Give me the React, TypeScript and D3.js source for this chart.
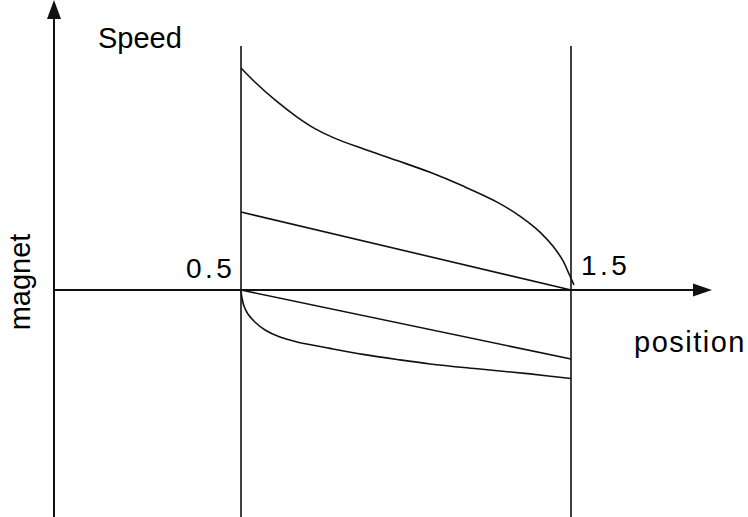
import React from "react";
import * as d3 from "d3";

// Position along the track (x) and speed / magnet readings (y)
const topCurveX = [0.5, 0.542, 0.603, 0.67, 0.724, 0.785, 0.87, 0.973, 1.073, 1.173, 1.276, 1.345, 1.406, 1.445, 1.476, 1.494, 1.509];
const topCurveY = [1.0, 0.937, 0.856, 0.779, 0.727, 0.683, 0.636, 0.583, 0.53, 0.468, 0.396, 0.333, 0.261, 0.198, 0.131, 0.072, 0.023];

const upperLineX = [0.5, 1.5];
const upperLineY = [0.351, 0];

const lowerLineX = [0.5, 1.5];
const lowerLineY = [0, -0.311];

const bottomCurveX = [0.5, 0.503, 0.509, 0.521, 0.542, 0.573, 0.618, 0.67, 0.77, 0.87, 0.973, 1.073, 1.224, 1.376, 1.5];
const bottomCurveY = [0, -0.036, -0.072, -0.108, -0.144, -0.18, -0.212, -0.234, -0.263, -0.29, -0.313, -0.333, -0.356, -0.378, -0.399];

const boundaryTicks = [0.5, 1.5];
const boundaryLabels = ["0.5", "1.5"];

const W = 748;
const H = 517;

const x = d3.scaleLinear().domain([0.5, 1.5]).range([241, 571]);
const y = d3.scaleLinear().domain([-1, 1]).range([512, 68]);

const axisLeft = 54;
const axisRight = 712;

const zip = (xs: number[], ys: number[]) => xs.map((v, i) => [v, ys[i]] as [number, number]);

const smooth = d3
  .line<[number, number]>()
  .x((d) => x(d[0]))
  .y((d) => y(d[1]))
  .curve(d3.curveCatmullRom.alpha(0.5));

const straight = d3
  .line<[number, number]>()
  .x((d) => x(d[0]))
  .y((d) => y(d[1]));

export default function App() {
  const y0 = y(0);
  const font = "'Liberation Sans', Arial, Helvetica, sans-serif";
  const stroke = "#111";
  return (
    <svg
      width={W}
      height={H}
      style={{ position: "absolute", left: 0, top: 0, background: "#fff" }}
      fontFamily={font}
    >
      {/* vertical axis with arrow */}
      <line x1={axisLeft} y1={H} x2={axisLeft} y2={14} stroke={stroke} strokeWidth={2} />
      <path d={`M${axisLeft},0 L${axisLeft - 7},19 L${axisLeft + 7},19 Z`} fill={stroke} />

      {/* horizontal axis with arrow */}
      <line x1={axisLeft} y1={y0} x2={axisRight - 14} y2={y0} stroke={stroke} strokeWidth={2} />
      <path d={`M${axisRight},${y0} L${axisRight - 19},${y0 - 6.5} L${axisRight - 19},${y0 + 6.5} Z`} fill={stroke} />

      {/* boundaries */}
      {boundaryTicks.map((t) => (
        <line key={t} x1={x(t)} x2={x(t)} y1={46} y2={H} stroke={stroke} strokeWidth={1.6} />
      ))}

      {/* curves */}
      <path d={smooth(zip(topCurveX, topCurveY)) || ""} fill="none" stroke={stroke} strokeWidth={1.6} />
      <path d={straight(zip(upperLineX, upperLineY)) || ""} fill="none" stroke={stroke} strokeWidth={1.6} />
      <path d={straight(zip(lowerLineX, lowerLineY)) || ""} fill="none" stroke={stroke} strokeWidth={1.6} />
      <path d={smooth(zip(bottomCurveX, bottomCurveY)) || ""} fill="none" stroke={stroke} strokeWidth={1.6} />

      {/* labels */}
      <text x={98} y={48} fontSize={29} fill="#000">Speed</text>
      <text x={634} y={352} fontSize={29} letterSpacing={1.5} fill="#000">position</text>
      <text
        transform={`translate(30,282) rotate(-90)`}
        textAnchor="middle"
        fontSize={29}
        fill="#000"
      >
        magnet
      </text>
      <text x={x(0.5) - 55} y={278} fontSize={28} letterSpacing={3.5} fill="#000">{boundaryLabels[0]}</text>
      <text x={x(1.5) + 10} y={275} fontSize={28} letterSpacing={3.5} fill="#000">{boundaryLabels[1]}</text>
    </svg>
  );
}
